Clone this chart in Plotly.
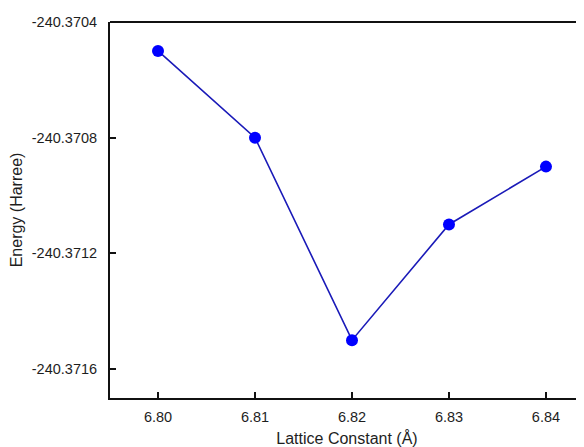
import plotly.graph_objects as go

lattice = [6.80, 6.81, 6.82, 6.83, 6.84]
energy = [-240.37050, -240.37080, -240.37150, -240.37110, -240.37090]
x_ticks = [6.80, 6.81, 6.82, 6.83, 6.84]
x_tick_text = ["6.80", "6.81", "6.82", "6.83", "6.84"]
y_ticks = [-240.3704, -240.3708, -240.3712, -240.3716]
y_tick_text = ["-240.3704", "-240.3708", "-240.3712", "-240.3716"]

fig = go.Figure()
fig.add_trace(go.Scatter(
    x=lattice, y=energy, mode="lines+markers",
    line=dict(color="#1a1ab8", width=1.6),
    marker=dict(color="#0000ff", size=12),
    showlegend=False,
))

font = "Liberation Sans, Arial, sans-serif"
txt = "#1e1e1e"
fig.update_layout(
    width=576, height=439,
    margin=dict(l=102, r=0, t=14, b=49),
    paper_bgcolor="white", plot_bgcolor="white",
    font=dict(family=font, size=14, color=txt),
    xaxis=dict(
        range=[6.79505, 6.84392], tickvals=x_ticks, ticktext=x_tick_text,
        showgrid=False, zeroline=False, showline=True, linecolor="#111", linewidth=2,
        ticks="inside", ticklen=6, tickwidth=1.5, tickcolor="#111",
        tickfont=dict(size=14.5, family=font, color=txt),
        ticklabelstandoff=5,
        title=dict(text="Lattice Constant (Å)", font=dict(size=16, family=font, color=txt), standoff=10),
        automargin=False,
    ),
    yaxis=dict(
        range=[-240.3717, -240.3704], tickvals=y_ticks, ticktext=y_tick_text,
        showgrid=False, zeroline=False, showline=True, linecolor="#111", linewidth=2,
        ticks="inside", ticklen=6, tickwidth=1.5, tickcolor="#111",
        tickfont=dict(size=14.5, family=font, color=txt),
        ticklabelstandoff=8,
        title=dict(text="Energy (Harree)", font=dict(size=16, family=font, color=txt), standoff=8),
        automargin=False,
    ),
    shapes=[dict(type="line", xref="paper", yref="paper", x0=0, x1=1, y0=1, y1=1,
                 line=dict(color="#111", width=2))],
)

fig.write_html("out.html")
